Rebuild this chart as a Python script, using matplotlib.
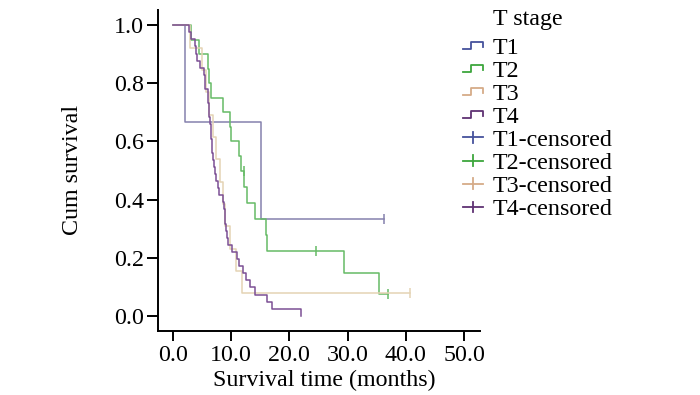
import matplotlib
matplotlib.use("Agg")
import matplotlib.pyplot as plt
from matplotlib.lines import Line2D
from matplotlib.legend_handler import HandlerBase

plt.rcParams['font.family'] = ['Liberation Serif', 'DejaVu Serif']
FS = 17.3

# Kaplan-Meier steps: time of each drop (months) and survival after it
t1_times = [0.0, 2.1, 15.1]
t1_surv = [1.0, 0.667, 0.333]
t1_cens_t = [36.2]
t1_cens_s = [0.333]

t2_times = [0.0, 3.1, 4.5, 6.0, 6.3, 6.6, 8.7, 9.8, 10.0, 11.4, 11.8,
            12.3, 12.7, 14.2, 16.0, 16.2, 29.4, 35.3]
t2_surv = [1.0, 0.95, 0.90, 0.85, 0.80, 0.75, 0.70, 0.65, 0.60, 0.55, 0.50,
           0.444, 0.389, 0.333, 0.278, 0.222, 0.148, 0.074]
t2_cens_t = [12.2, 24.6, 37.0]
t2_cens_s = [0.50, 0.222, 0.074]

t3_times = [0.0, 3.0, 5.0, 5.8, 6.3, 6.95, 7.4, 8.1, 8.6, 9.0, 9.8, 10.8, 11.9]
t3_surv = [1.0, 0.923, 0.846, 0.769, 0.692, 0.615, 0.538, 0.462, 0.385,
           0.308, 0.231, 0.154, 0.077]
t3_cens_t = [40.7]
t3_cens_s = [0.077]

t4_times = [0.0, 2.85, 3.1, 3.8, 4.0, 4.2, 4.7, 5.3, 5.5, 5.6, 6.0, 6.1, 6.2,
            6.3, 6.4, 6.5, 6.6, 6.7, 6.8, 6.9, 7.1, 7.25, 7.5, 7.8, 8.0, 8.7,
            8.8, 8.9, 9.0, 9.1, 9.3, 9.5, 10.1, 11.0, 11.4, 12.1, 12.6, 13.3,
            14.1, 16.2, 17.1, 22.0]
t4_surv = [1.0, 0.976, 0.951, 0.927, 0.902, 0.878, 0.854, 0.829, 0.805, 0.780,
           0.756, 0.732, 0.707, 0.683, 0.659, 0.634, 0.610, 0.585, 0.561, 0.537,
           0.512, 0.488, 0.463, 0.439, 0.415, 0.390, 0.366, 0.341, 0.317, 0.293,
           0.268, 0.244, 0.220, 0.195, 0.171, 0.146, 0.122, 0.098, 0.073, 0.049,
           0.024, 0.0]
t4_cens_t = []
t4_cens_s = []

groups = ['T1', 'T2', 'T3', 'T4']
line_colors = ['#8581ad', '#66bb66', '#e4d3b4', '#7c4f94']
key_colors = ['#45529c', '#3da63d', '#d6ab88', '#5f3273']

x_ticks = [0, 10, 20, 30, 40, 50]
y_ticks = [0.0, 0.2, 0.4, 0.6, 0.8, 1.0]


class StepHandler(HandlerBase):
    def create_artists(self, legend, orig_handle, xdescent, ydescent,
                       width, height, fontsize, trans):
        x0, y0 = -xdescent, -ydescent
        mid = y0 + height / 2
        h = 0.42 * height
        xs = [x0, x0 + 0.42 * width, x0 + 0.42 * width, x0 + width, x0 + width]
        ys = [mid - h / 2, mid - h / 2, mid + h / 2, mid + h / 2, mid - h / 4]
        return [Line2D(xs, ys, color=orig_handle.get_color(), lw=1.3, transform=trans)]


class CensorHandler(HandlerBase):
    def create_artists(self, legend, orig_handle, xdescent, ydescent,
                       width, height, fontsize, trans):
        x0, y0 = -xdescent, -ydescent
        mid = y0 + height / 2
        c = orig_handle.get_color()
        hl = Line2D([x0, x0 + width], [mid, mid], color=c, lw=1.3, transform=trans)
        vl = Line2D([x0 + width / 2] * 2, [mid - 0.3 * height, mid + 0.3 * height],
                    color=c, lw=1.3, transform=trans)
        return [hl, vl]


fig = plt.figure(figsize=(7, 3.95), dpi=100)
ax = fig.add_axes([158 / 700, 1 - 331 / 395, 322 / 700, 321 / 395])

data = [(t1_times, t1_surv, t1_cens_t, t1_cens_s, 36.2),
        (t2_times, t2_surv, t2_cens_t, t2_cens_s, 37.0),
        (t3_times, t3_surv, t3_cens_t, t3_cens_s, 40.7),
        (t4_times, t4_surv, t4_cens_t, t4_cens_s, None)]

for (tt, ss, ct, cs, last), col in zip(data, line_colors):
    xs = list(tt)
    ys = list(ss)
    if last is not None:
        xs.append(last)
        ys.append(ss[-1])
    ax.step(xs, ys, where='post', color=col, lw=1.1)
    if ct:
        ax.plot(ct, cs, ls='none', marker='|', ms=7, mew=1.1, color=col)

ax.set_xlim(-2.5, 52.7)
ax.set_ylim(-0.052, 1.052)
ax.set_xticks(x_ticks)
ax.set_xticklabels(['%.1f' % v for v in x_ticks])
ax.set_yticks(y_ticks)
ax.set_yticklabels(['%.1f' % v for v in y_ticks])
for s in ['top', 'right']:
    ax.spines[s].set_visible(False)
for s in ['left', 'bottom']:
    ax.spines[s].set_linewidth(1.4)
ax.tick_params(axis='both', labelsize=FS, width=1.4, color='black')
ax.tick_params(axis='y', length=8, pad=2)
ax.tick_params(axis='x', length=7, pad=3)

fig.text(72 / 700, 1 - 170 / 395, 'Cum survival', rotation=90,
         ha='center', va='center', fontsize=FS)
fig.text(324 / 700, 1 - 380 / 395, 'Survival time (months)',
         ha='center', va='center', fontsize=FS)

# legend
step_h = [Line2D([], [], color=c) for c in key_colors]
cens_h = [Line2D([], [], color=c) for c in key_colors]
hmap = {h: StepHandler() for h in step_h}
hmap.update({h: CensorHandler() for h in cens_h})
labels = groups + [g + '-censored' for g in groups]
fig.text(493 / 700, 1 - 20 / 395, 'T stage', ha='left', va='center', fontsize=FS)
fig.legend(step_h + cens_h, labels, handler_map=hmap, loc='upper left',
           bbox_to_anchor=(463 / 700, 1 - 37 / 395), frameon=False,
           fontsize=FS, borderpad=0, borderaxespad=0, handlelength=0.83,
           handletextpad=0.4, labelspacing=0.05, handleheight=0.7)

fig.savefig('out.png', dpi=100)
